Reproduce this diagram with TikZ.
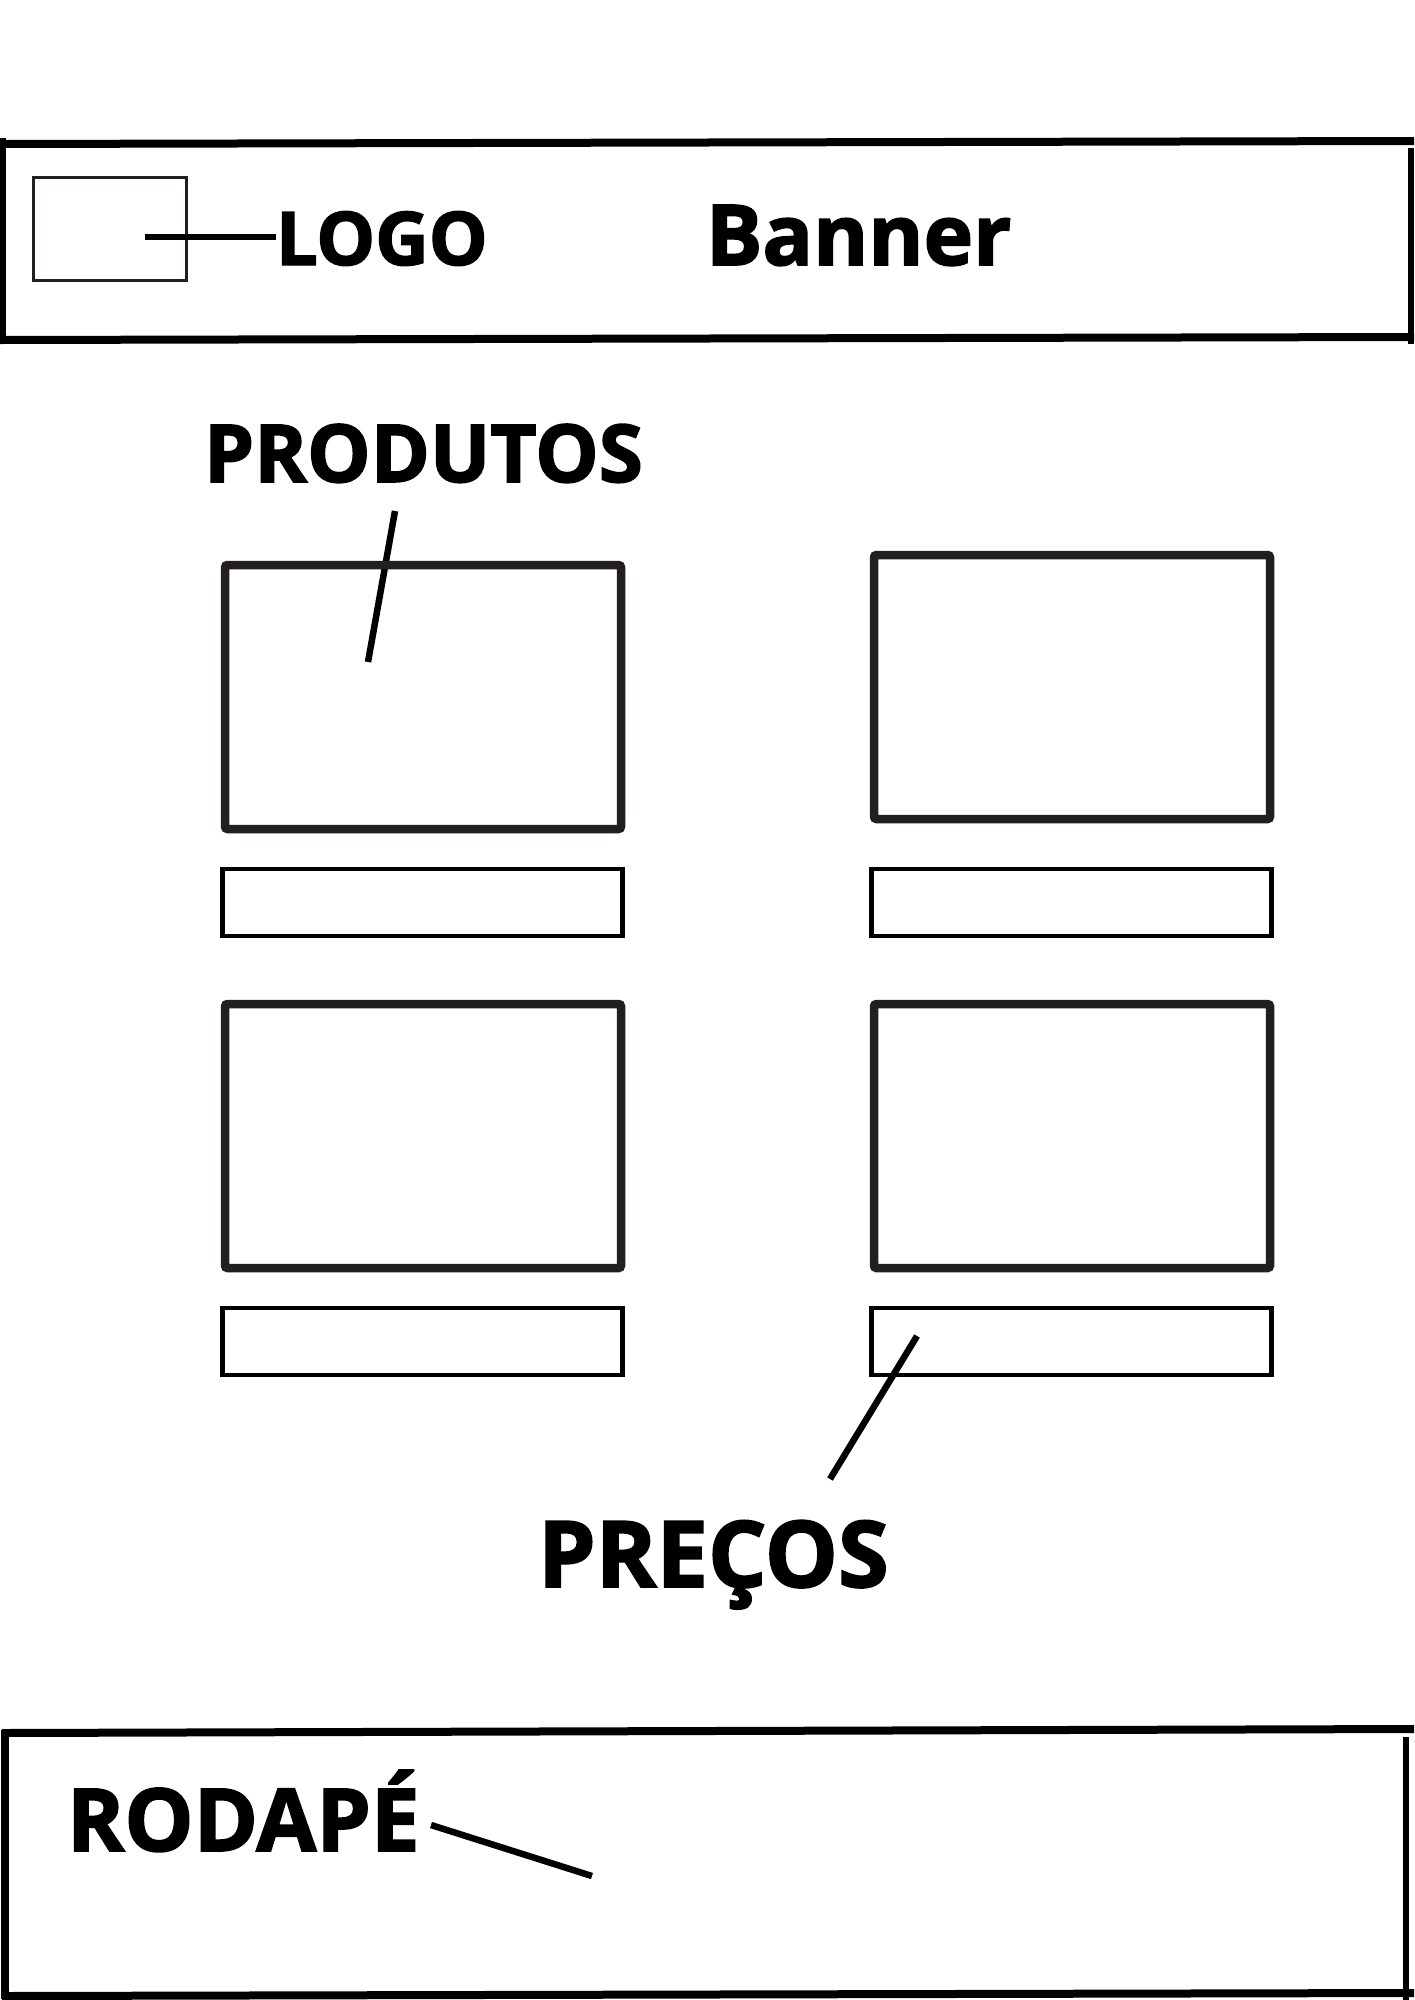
\documentclass[tikz,border=0pt]{standalone}
\usepackage{fontspec}
\setmainfont{Open Sans}[BoldFeatures={FakeBold=2}]
\definecolor{boxgray}{HTML}{231F20}
\begin{document}
\begin{tikzpicture}[x=1pt,y=-1pt,
  frame/.style={line width=8pt, draw=black},
  prodbox/.style={draw=boxgray, line width=8.5pt, rounded corners=2.5pt, inner sep=0pt, outer sep=0pt, anchor=north west},
  pricebox/.style={draw=black, line width=4.3pt, inner sep=0pt, outer sep=0pt, anchor=north west},
  leader/.style={line width=6.5pt, draw=black},
  lbl/.style={inner sep=0pt, outer sep=0pt, anchor=base west}]
\useasboundingbox (0,0) rectangle (1414,2000);
% header frame
\draw[frame] (0,144) -- (1414,141);
\draw[frame] (0,340) -- (1414,337);
\draw[frame] (2,138) -- (2,342);
\draw[frame, line width=6pt] (1411,148) -- (1411,344);
% logo
\node[draw=boxgray, line width=3pt, inner sep=0pt, outer sep=0pt, anchor=north west, minimum width=153pt, minimum height=103pt] (logobox) at (33,177) {};
\node[lbl, font=\bfseries\fontsize{74}{74}\selectfont] (logo) at (276,265) {LOGO};
\coordinate (logoA) at (145,237);
\draw[leader] (logoA) -- (logo.west |- logoA);
\node[lbl, font=\bfseries\fontsize{84}{84}\selectfont] (banner) at (706,265) {Banner};
% produtos
\node[lbl, font=\bfseries\fontsize{80}{80}\selectfont] (produtos) at (204,482) {PRODUTOS};
\coordinate (prodA) at (395,511);
\coordinate (prodB) at (368,662);
\draw[leader] (prodA) -- (prodB);
% product boxes
\node[prodbox, minimum width=396pt, minimum height=264pt] (p1) at (225,565) {};
\node[prodbox, minimum width=396pt, minimum height=264pt] (p2) at (874,555) {};
\node[prodbox, minimum width=396pt, minimum height=264pt] (p3) at (225,1004) {};
\node[prodbox, minimum width=396pt, minimum height=264pt] (p4) at (874,1004) {};
% price boxes
\node[pricebox, minimum width=400pt, minimum height=67pt] (r1) at (222.5,869) {};
\node[pricebox, minimum width=400pt, minimum height=67pt] (r2) at (871.5,869) {};
\node[pricebox, minimum width=400pt, minimum height=67pt] (r3) at (222.5,1308) {};
\node[pricebox, minimum width=400pt, minimum height=67pt] (r4) at (871.5,1308) {};
% precos
\coordinate (precA) at (917,1336);
\coordinate (precB) at (830,1479);
\draw[leader] (precA) -- (precB);
\node[lbl, font=\bfseries\fontsize{92}{92}\selectfont] (precos) at (538,1587) {PREÇOS};
% footer frame
\draw[frame] (2,1733) -- (1414,1729);
\draw[frame] (2,1996) -- (1414,1993);
\draw[frame] (5,1730) -- (5,1999);
\draw[frame, line width=6pt] (1406,1737) -- (1406,2000);
\node[lbl, font=\bfseries\fontsize{87}{87}\selectfont] (rodape) at (67,1851) {RODAPÉ};
\coordinate (rodA) at (431,1825);
\coordinate (rodB) at (592,1876);
\draw[leader] (rodA) -- (rodB);
\end{tikzpicture}
\end{document}
